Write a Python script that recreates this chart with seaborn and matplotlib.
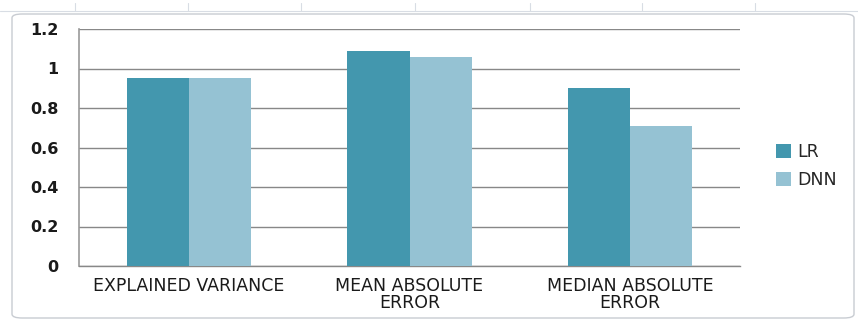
import matplotlib
matplotlib.use("Agg")
import matplotlib.pyplot as plt
import seaborn as sns
import pandas as pd
from matplotlib.patches import FancyBboxPatch, Patch

categories = ["EXPLAINED VARIANCE", "MEAN ABSOLUTE\nERROR", "MEDIAN ABSOLUTE\nERROR"]
series_names = ["LR", "DNN"]
lr_values = [0.95, 1.09, 0.90]
dnn_values = [0.95, 1.06, 0.71]
y_ticks = [0, 0.2, 0.4, 0.6, 0.8, 1.0, 1.2]
y_tick_labels = ["0", "0.2", "0.4", "0.6", "0.8", "1", "1.2"]
colors = ["#4397AE", "#95C2D3"]

df = pd.DataFrame({
    "category": categories * 2,
    "model": [series_names[0]] * 3 + [series_names[1]] * 3,
    "value": lr_values + dnn_values,
})

sns.set_theme(style="white")
plt.rcParams["font.family"] = ["DejaVu Sans"]

fig = plt.figure(figsize=(8.58, 3.2), dpi=100)
fig.patch.set_facecolor("white")

# spreadsheet-like background lines at top
for xv in [75, 188, 301, 415, 530, 642, 755]:
    fig.add_artist(plt.Line2D([xv / 858, xv / 858], [1 - 3 / 320, 1 - 11 / 320],
                              color="#d8dde4", lw=0.8, transform=fig.transFigure))
fig.add_artist(plt.Line2D([0, 1], [1 - 11 / 320, 1 - 11 / 320], color="#d8dde4", lw=0.8,
                          transform=fig.transFigure))
# chart frame
frame = FancyBboxPatch((12 / 858, 2 / 320), 842 / 858, 304 / 320,
                       boxstyle="round,pad=0,rounding_size=0.012",
                       transform=fig.transFigure, facecolor="white",
                       edgecolor="#c8ccd2", lw=1.0, zorder=0)
fig.add_artist(frame)

ax = fig.add_axes([79 / 858, 1 - 266 / 320, (740 - 79) / 858, (266 - 29) / 320])
ax.set_facecolor("none")

sns.barplot(data=df, x="category", y="value", hue="model", palette=colors,
            width=0.564, gap=0, saturation=1, ax=ax, legend=False, zorder=3,
            linewidth=0, edgecolor="none")

ax.set_ylim(0, 1.2)
ax.set_xlim(-0.5, 2.5)
ax.set_yticks(y_ticks)
ax.set_yticklabels(y_tick_labels, fontsize=11.5, fontweight="bold", color="#1a1a1a")
ax.set_xlabel("")
ax.set_ylabel("")
ax.tick_params(axis="y", length=7, width=1, color="#888888", pad=8, direction="out")
ax.yaxis.grid(True, color="#888888", lw=1)
ax.set_axisbelow(True)

ax.set_xticks([-0.5, 0.5, 1.5, 2.5], minor=False)
ax.set_xticklabels([])
ax.set_xticks([0, 1, 2], minor=True)
ax.set_xticklabels(categories, minor=True, fontsize=12.5, color="#1a1a1a", linespacing=0.95)
ax.tick_params(axis="x", which="major", length=5, width=1, color="#888888", direction="out")
ax.tick_params(axis="x", which="minor", length=0, pad=8)

for s in ["top", "right"]:
    ax.spines[s].set_visible(False)
ax.spines["left"].set_color("#999999")
ax.spines["left"].set_linewidth(1.2)
ax.spines["bottom"].set_color("#888888")
ax.spines["bottom"].set_linewidth(1)

handles = [Patch(facecolor=c, edgecolor="none") for c in colors]
fig.legend(handles, series_names, loc="center left",
           bbox_to_anchor=(776 / 858, 1 - 166 / 320), frameon=False,
           borderpad=0, borderaxespad=0,
           fontsize=12.5, handlelength=0.85, handleheight=0.85, labelspacing=0.55,
           handletextpad=0.35)

fig.savefig("out.png", dpi=100)
